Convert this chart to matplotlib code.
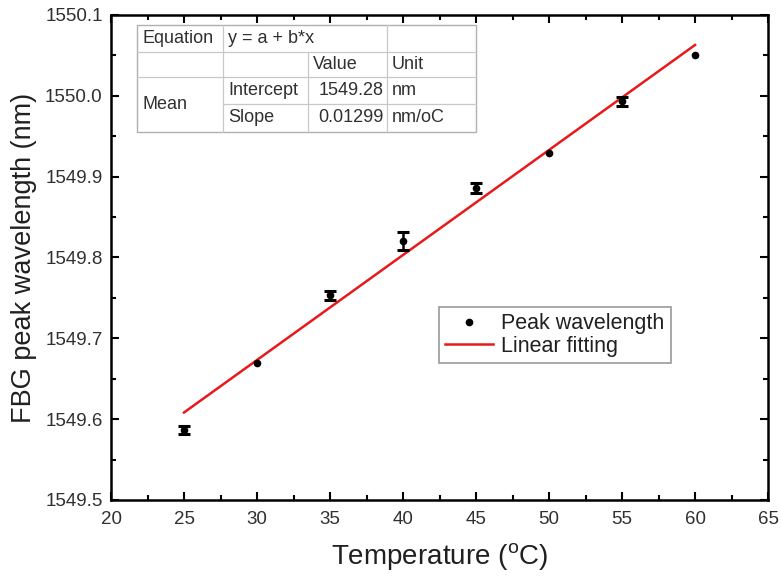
import matplotlib
matplotlib.use("Agg")
import matplotlib.pyplot as plt
import numpy as np
from matplotlib.ticker import MultipleLocator, FormatStrFormatter
from matplotlib.lines import Line2D
from matplotlib.patches import Rectangle

plt.rcParams['font.family'] = ['Liberation Sans', 'DejaVu Sans']

temperature = [25, 30, 35, 40, 45, 50, 55, 60]
peak_wavelength = [1549.587, 1549.670, 1549.753, 1549.820, 1549.886, 1549.929, 1549.993, 1550.050]
error = [0.005, 0.0, 0.006, 0.011, 0.006, 0.0, 0.006, 0.0]
intercept = 1549.2835
slope = 0.01299

table_rows = [
    ["Equation", "y = a + b*x", "", ""],
    ["", "", "Value", "Unit"],
    ["Mean", "Intercept", "1549.28", "nm"],
    ["", "Slope", "0.01299", "nm/oC"],
]

fig = plt.figure(figsize=(7.81, 5.80), dpi=100)
ax = fig.add_axes([111/781, 80/580, 657/781, 485/580])

x = np.array(temperature, dtype=float)
y = np.array(peak_wavelength)
err = np.array(error)
ax.plot(x, y, 'o', color='black', markersize=4.5, zorder=3)
m = err > 0
ax.errorbar(x[m], y[m], yerr=err[m], fmt='none', ecolor='black', elinewidth=1.8,
            capsize=4.5, capthick=2.2, zorder=3)
xf = np.array([x.min(), x.max()])
ax.plot(xf, intercept + slope * xf, color='#e8191b', lw=1.8, zorder=2)

ax.set_xlim(20, 65)
ax.set_ylim(1549.5, 1550.1)
ax.xaxis.set_major_locator(MultipleLocator(5))
ax.xaxis.set_minor_locator(MultipleLocator(2.5))
ax.yaxis.set_major_locator(MultipleLocator(0.1))
ax.yaxis.set_minor_locator(MultipleLocator(0.05))
ax.tick_params(which='both', direction='in', top=True, right=True, width=1.5, labelsize=13.5,
               labelcolor='#303030')
ax.tick_params(which='major', length=6)
ax.tick_params(which='minor', length=3.5)
ax.tick_params(axis='x', pad=8)
ax.tick_params(axis='y', pad=6)
ax.yaxis.set_major_formatter(FormatStrFormatter('%.1f'))
for s in ax.spines.values():
    s.set_linewidth(1.8)
ax.set_xlabel('Temperature ($\\mathregular{^{o}}$C)', fontsize=20, labelpad=9, color='#202020')
ax.set_ylabel('FBG peak wavelength (nm)', fontsize=19.5, labelpad=6, color='#202020')

handles = [Line2D([], [], ls='none', marker='o', color='black', markersize=4.5),
           Line2D([], [], color='#e8191b', lw=1.8)]
labels = ['Peak wavelength', 'Linear fitting']
leg = ax.legend(handles, labels, loc='upper left', bbox_to_anchor=((439-111)/657, (500-307)/485),
                fontsize=15.5, frameon=True, fancybox=False, edgecolor='#808080',
                handlelength=2.2, borderpad=0.3, labelspacing=0.05, handletextpad=0.4,
                borderaxespad=0)
leg.get_frame().set_linewidth(1.2)
for t in leg.get_texts():
    t.set_color('#202020')

# Table drawn in figure pixel coordinates
W, H = 781, 580
col_x = [137, 223, 308, 387, 476]
row_y = [25, 52, 77, 104, 132]
def fx(px):
    return px / W
def fy(py):
    return 1 - py / H
fig.patches.append(Rectangle((fx(col_x[0]), fy(row_y[-1])), fx(col_x[-1]) - fx(col_x[0]),
                             fy(row_y[0]) - fy(row_y[-1]), transform=fig.transFigure,
                             facecolor='white', edgecolor='#b0b0b0', lw=1.0, zorder=5))
lc = '#c8c8c8'
for i, yy in enumerate(row_y[1:-1], start=1):
    x0 = col_x[0] if i != 3 else col_x[1]
    fig.add_artist(Line2D([fx(x0), fx(col_x[-1])], [fy(yy), fy(yy)], color=lc, lw=0.9,
                          transform=fig.transFigure, zorder=6))
for j, xx in enumerate(col_x[1:-1], start=1):
    y0 = row_y[1] if j == 2 else row_y[0]
    fig.add_artist(Line2D([fx(xx), fx(xx)], [fy(y0), fy(row_y[-1])], color=lc, lw=0.9,
                          transform=fig.transFigure, zorder=6))
fs = 13
def cell_text(r, c, txt, ha='left'):
    yc = (row_y[r] + row_y[r + 1]) / 2
    xc = col_x[c] + 5 if ha == 'left' else col_x[c + 1] - 3
    fig.text(fx(xc), fy(yc), txt, ha=ha, va='center', fontsize=fs, color='#303030', zorder=7)
cell_text(0, 0, table_rows[0][0])
cell_text(0, 1, table_rows[0][1])
cell_text(1, 2, table_rows[1][2])
cell_text(1, 3, table_rows[1][3])
fig.text(fx(col_x[0] + 5), fy((row_y[2] + row_y[4]) / 2), table_rows[2][0], ha='left', va='center',
         fontsize=fs, color='#303030', zorder=7)
cell_text(2, 1, table_rows[2][1])
cell_text(2, 2, table_rows[2][2], ha='right')
cell_text(2, 3, table_rows[2][3])
cell_text(3, 1, table_rows[3][1])
cell_text(3, 2, table_rows[3][2], ha='right')
cell_text(3, 3, table_rows[3][3])

fig.savefig('out.png', dpi=100)
